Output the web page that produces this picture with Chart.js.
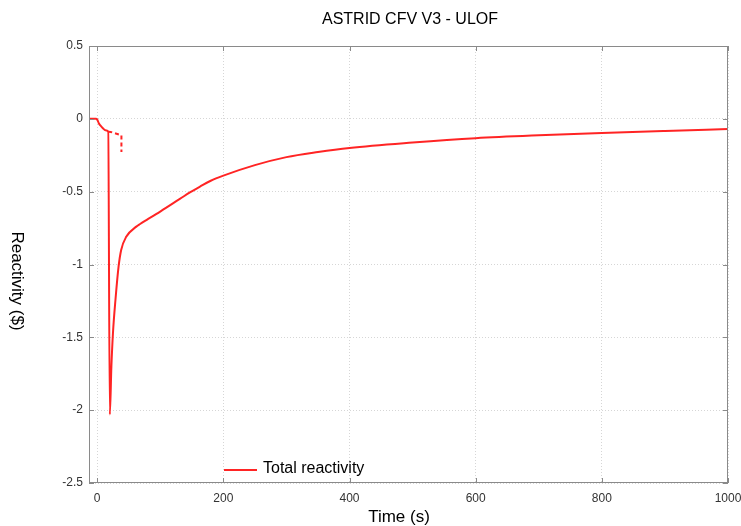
<!DOCTYPE html>
<html>
<head>
<meta charset="utf-8">
<script src="https://cdn.jsdelivr.net/npm/chart.js@4.4.1/dist/chart.umd.min.js"></script>
<style>
    html, body { margin: 0; padding: 0; background: #fff; }
</style>
</head>
<body>
<canvas id="chart" width="741" height="526"></canvas>
<script>
// ASTRID CFV V3 - ULOF, total reactivity vs time
const chartTitle = "ASTRID CFV V3 - ULOF";
const seriesLabel = "Total reactivity";
const xTitle = "Time (s)";
const yTitle = "Reactivity ($)";

const time = [-13, -2, 0, 2.5, 5, 9, 13, 17.5, 20, 22.5, 25, 29, 34, 38, 46, 62, 68, 78, 94, 105, 120, 131, 147, 163, 180, 200, 250, 300, 350, 400, 500, 600, 700, 800, 900, 1000];
const reactivity = [0, 0, -0.005, -0.03, -0.045, -0.064, -0.078, -0.088, -2.03, -1.70, -1.47, -1.24, -1.01, -0.90, -0.81, -0.74, -0.722, -0.695, -0.653, -0.622, -0.58, -0.55, -0.505, -0.465, -0.425, -0.39, -0.318, -0.263, -0.228, -0.2, -0.163, -0.133, -0.113, -0.097, -0.083, -0.07];

// dashed branch near the start
const dashTime = [17.5, 21.4, 38.4, 38.4];
const dashValue = [-0.088, -0.09, -0.113, -0.228];

const xTicks = [0, 200, 400, 600, 800, 1000];
const yTicks = [-2.5, -2, -1.5, -1, -0.5, 0, 0.5];

const FONT = "'Liberation Sans', Arial, sans-serif";
const RED = "#ff2424";

const toPoints = (xs, ys) => xs.map((x, i) => ({ x, y: ys[i] }));

// frame, inward ticks, titles and in-plot legend
const decorations = {
    id: "decorations",
    afterDraw(chart) {
        const { ctx, chartArea: a, scales } = chart;
        ctx.save();
        ctx.strokeStyle = "#8a8a8a";
        ctx.lineWidth = 1;
        ctx.strokeRect(a.left + 0.5, a.top + 0.5, a.right - a.left - 1, a.bottom - a.top - 1);

        ctx.beginPath();
        xTicks.forEach(v => {
            const px = Math.round(scales.x.getPixelForValue(v)) + 0.5;
            ctx.moveTo(px, a.bottom); ctx.lineTo(px, a.bottom - 5);
            ctx.moveTo(px, a.top); ctx.lineTo(px, a.top + 5);
        });
        yTicks.forEach(v => {
            const py = Math.round(scales.y.getPixelForValue(v)) + 0.5;
            ctx.moveTo(a.left, py); ctx.lineTo(a.left + 5, py);
            ctx.moveTo(a.right, py); ctx.lineTo(a.right - 5, py);
        });
        ctx.stroke();

        ctx.fillStyle = "#000";
        ctx.textAlign = "center";
        ctx.textBaseline = "middle";
        ctx.font = "16px " + FONT;
        ctx.fillText(chartTitle, 410, 20);

        ctx.font = "17px " + FONT;
        ctx.fillText(xTitle, 399, 517);
        ctx.save();
        ctx.translate(17, 281);
        ctx.rotate(Math.PI / 2);
        ctx.fillText(yTitle, 0, 0);
        ctx.restore();

        // legend
        ctx.strokeStyle = RED;
        ctx.lineWidth = 2;
        ctx.beginPath();
        ctx.moveTo(224, 470); ctx.lineTo(257, 470);
        ctx.stroke();
        ctx.font = "16px " + FONT;
        ctx.textAlign = "left";
        ctx.fillText(seriesLabel, 263, 469);
        ctx.restore();
    }
};

new Chart(document.getElementById("chart"), {
    type: "line",
    data: {
        datasets: [
            {
                label: seriesLabel,
                data: toPoints(time, reactivity),
                borderColor: RED,
                borderWidth: 2,
                pointRadius: 0,
                cubicInterpolationMode: "monotone",
            },
            {
                label: "dashed",
                data: toPoints(dashTime, dashValue),
                borderColor: RED,
                borderWidth: 2,
                borderDash: [4, 3],
                pointRadius: 0,
            }
        ]
    },
    options: {
        responsive: false,
        animation: false,
        devicePixelRatio: 1,
        layout: { padding: { top: 46, right: 13, left: 0, bottom: 0 } },
        plugins: {
            legend: { display: false },
            title: { display: false },
            tooltip: { enabled: false },
        },
        scales: {
            x: {
                type: "linear",
                min: -13,
                max: 1000,
                afterBuildTicks: (s) => { s.ticks = xTicks.map(v => ({ value: v })); },
                afterFit: (s) => { s.height = 43; s.paddingLeft = 0; s.paddingRight = 0; },
                grid: { color: "#d6d6d6", drawTicks: false },
                border: { display: false, dash: [1, 2] },
                ticks: { color: "#333", font: { family: FONT, size: 12 }, padding: 8, maxRotation: 0, callback: (v) => String(v) },
            },
            y: {
                min: -2.5,
                max: 0.5,
                afterBuildTicks: (s) => { s.ticks = yTicks.map(v => ({ value: v })); },
                afterFit: (s) => { s.width = 89; s.paddingTop = 0; s.paddingBottom = 0; },
                grid: { color: "#d6d6d6", drawTicks: false },
                border: { display: false, dash: [1, 2] },
                ticks: { color: "#333", font: { family: FONT, size: 12 }, padding: 6, callback: (v) => String(v) },
            }
        }
    },
    plugins: [decorations]
});
</script>
</body>
</html>
